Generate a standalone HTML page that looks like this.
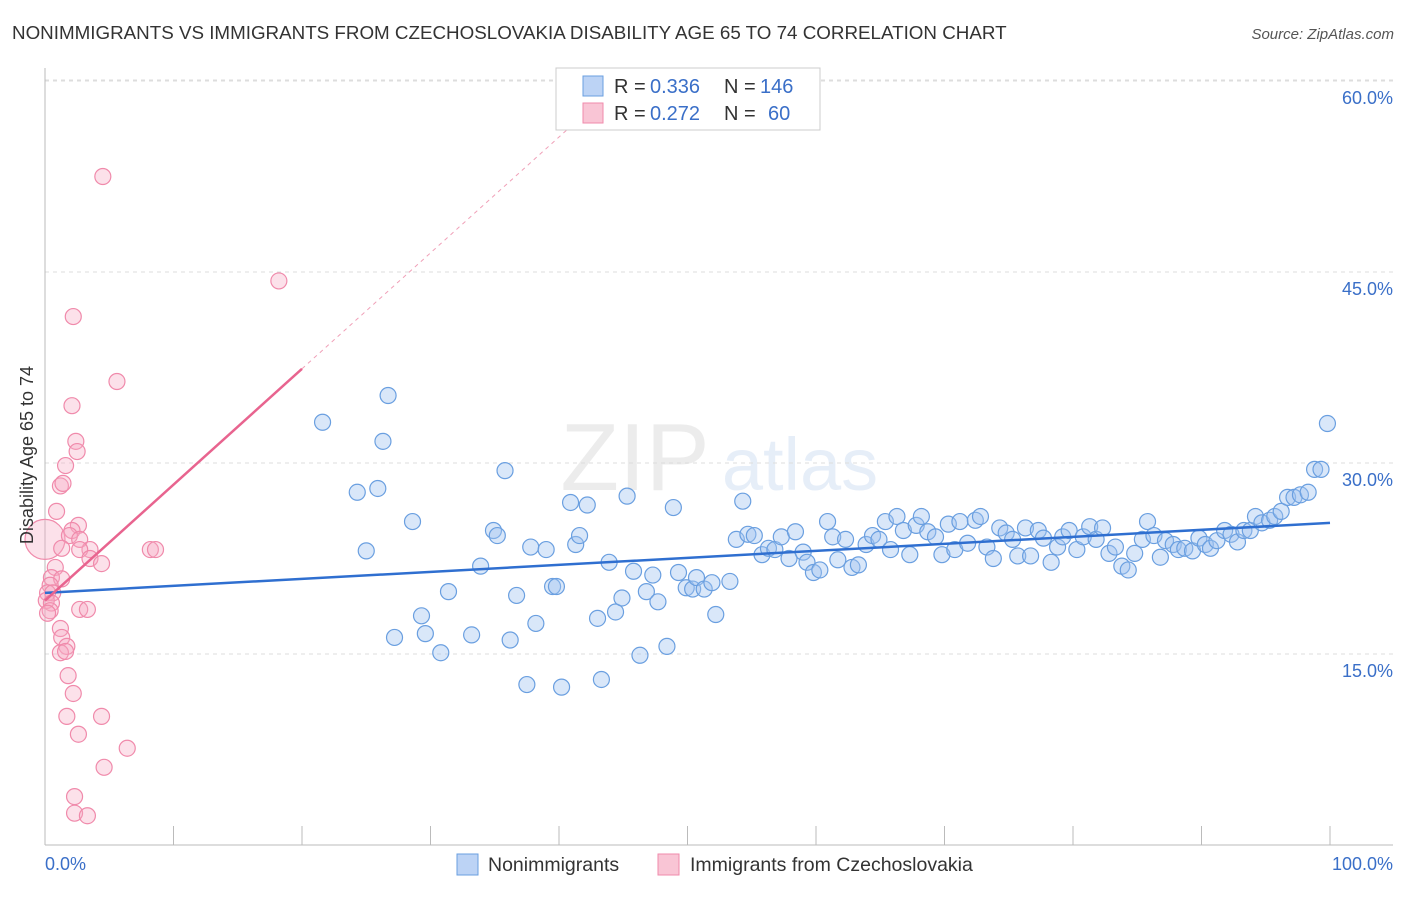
<!DOCTYPE html>
<html><head><meta charset="utf-8"><style>
body{margin:0;background:#fff;font-family:"Liberation Sans",sans-serif;}
svg text{font-family:"Liberation Sans",sans-serif;}
</style></head><body>
<svg id="chart" width="1406" height="892" xmlns="http://www.w3.org/2000/svg">
<text x="12" y="39" font-size="18.8" fill="#333">NONIMMIGRANTS VS IMMIGRANTS FROM CZECHOSLOVAKIA DISABILITY AGE 65 TO 74 CORRELATION CHART</text>
<text x="1394" y="39" font-size="15" fill="#555" text-anchor="end" font-style="italic">Source: ZipAtlas.com</text>
<g opacity="0.13">
<text x="635" y="490" font-size="96" font-family="Liberation Serif" fill="#777" text-anchor="middle">ZIP</text>
<text x="800" y="490" font-size="74" fill="#4a7fd0" text-anchor="middle">atlas</text>
</g>
<g id="grid"></g><g id="axes"></g><g id="marks"></g>
<text transform="translate(33,455) rotate(-90)" font-size="18" fill="#333" text-anchor="middle">Disability Age 65 to 74</text>
<g>
<rect x="556" y="68" width="264" height="62" fill="#fff" stroke="#ccc"/>
<rect x="583" y="76" width="20" height="20" fill="#bcd3f5" stroke="#6a9fe0"/>
<rect x="583" y="103" width="20" height="20" fill="#f9c5d5" stroke="#f08aab"/>
<text x="614" y="93" font-size="20" fill="#333">R =</text>
<text x="650" y="93" font-size="20" fill="#3a6fc8">0.336</text>
<text x="724" y="93" font-size="20" fill="#333">N =</text>
<text x="760" y="93" font-size="20" fill="#3a6fc8">146</text>
<text x="614" y="120" font-size="20" fill="#333">R =</text>
<text x="650" y="120" font-size="20" fill="#3a6fc8">0.272</text>
<text x="724" y="120" font-size="20" fill="#333">N =</text>
<text x="768" y="120" font-size="20" fill="#3a6fc8">60</text>
</g>
<g>
<rect x="457" y="854" width="21" height="21" fill="#bcd3f5" stroke="#6a9fe0"/>
<text x="488" y="871" font-size="19.5" fill="#333">Nonimmigrants</text>
<rect x="658" y="854" width="21" height="21" fill="#f9c5d5" stroke="#f08aab"/>
<text x="690" y="871" font-size="19.5" fill="#333">Immigrants from Czechoslovakia</text>
</g>
</svg>
<script>
const yTicks=[15,30,45,60];
const yTickLabels=["15.0%","30.0%","45.0%","60.0%"];
const xTicks=[10,20,30,40,50,60,70,80,90,100];
const blueX=[21.6,26.7,26.3,24.3,25.9,25.0,28.6,27.2,29.3,29.6,30.8,31.4,33.2,33.9,34.9,35.2,35.8,36.2,36.7,37.5,37.8,38.2,39.0,39.5,39.8,40.2,40.9,41.3,41.6,42.2,43.0,43.3,43.9,44.4,44.9,45.3,45.8,46.3,46.8,47.3,47.7,48.4,48.9,49.3,49.9,50.4,50.7,51.3,51.9,52.2,53.3,53.8,54.3,54.7,55.2,55.8,56.3,56.8,57.3,57.9,58.4,59.0,59.3,59.8,60.3,60.9,61.3,61.7,62.3,62.8,63.3,63.9,64.4,64.9,65.4,65.8,66.3,66.8,67.3,67.8,68.2,68.7,69.3,69.8,70.3,70.8,71.2,71.8,72.4,72.8,73.3,73.8,74.3,74.8,75.3,75.7,76.3,76.7,77.3,77.7,78.3,78.8,79.2,79.7,80.3,80.8,81.3,81.8,82.3,82.8,83.3,83.8,84.3,84.8,85.4,85.8,86.3,86.8,87.2,87.8,88.2,88.7,89.3,89.8,90.3,90.7,91.2,91.8,92.3,92.8,93.3,93.8,94.2,94.7,95.3,95.7,96.2,96.7,97.2,97.7,98.3,98.8,99.3,99.8];
const blueY=[33.2,35.3,31.7,27.7,28.0,23.1,25.4,16.3,18.0,16.6,15.1,19.9,16.5,21.9,24.7,24.3,29.4,16.1,19.6,12.6,23.4,17.4,23.2,20.3,20.3,12.4,26.9,23.6,24.3,26.7,17.8,13.0,22.2,18.3,19.4,27.4,21.5,14.9,19.9,21.2,19.1,15.6,26.5,21.4,20.2,20.1,21.0,20.1,20.6,18.1,20.7,24.0,27.0,24.4,24.3,22.8,23.3,23.2,24.2,22.5,24.6,23.0,22.2,21.4,21.6,25.4,24.2,22.4,24.0,21.8,22.0,23.6,24.3,24.0,25.4,23.2,25.8,24.7,22.8,25.1,25.8,24.6,24.2,22.8,25.2,23.2,25.4,23.7,25.5,25.8,23.4,22.5,24.9,24.5,24.0,22.7,24.9,22.7,24.7,24.1,22.2,23.4,24.2,24.7,23.2,24.2,25.0,24.0,24.9,22.9,23.4,21.9,21.6,22.9,24.0,25.4,24.3,22.6,23.9,23.6,23.2,23.3,23.1,24.1,23.6,23.3,23.9,24.7,24.4,23.8,24.7,24.7,25.8,25.3,25.5,25.8,26.2,27.3,27.3,27.5,27.7,29.5,29.5,33.1];
const pinkX=[4.5,18.2,2.2,5.6,2.1,2.4,2.5,1.6,1.2,1.4,0.9,2.6,2.1,1.9,2.7,1.3,3.5,2.7,8.2,8.6,3.5,4.4,0.8,0.5,1.3,0.4,0.2,0.6,0.1,0.5,0.4,2.7,3.3,0.2,1.2,1.3,1.7,1.2,1.6,1.8,2.2,1.7,4.4,2.6,6.4,4.6,2.3,2.3,3.3];
const pinkY=[52.5,44.3,41.5,36.4,34.5,31.7,30.9,29.8,28.2,28.4,26.2,25.1,24.7,24.3,24.0,23.3,23.2,23.2,23.2,23.2,22.5,22.1,21.8,21.0,20.9,20.4,19.8,19.8,19.2,19.0,18.4,18.5,18.5,18.2,17.0,16.3,15.6,15.1,15.2,13.3,11.9,10.1,10.1,8.7,7.6,6.1,3.8,2.5,2.3];
const blueTrend=[19.8,25.3];
const pinkTrend=[19.2,37.4];
const NS="http://www.w3.org/2000/svg";
const X0=45,X1=1330,Y0=845,PXY=191/15;
function sx(v){return X0+(X1-X0)*v/100;}
function sy(v){return Y0-v*PXY;}
function mk(tag,attrs,parent){const e=document.createElementNS(NS,tag);for(const k in attrs)e.setAttribute(k,attrs[k]);document.getElementById(parent).appendChild(e);return e;}
yTicks.forEach((t,i)=>{
 const g=mk('line',{x1:45,x2:1393,y1:sy(t),y2:sy(t),stroke:'#ddd','stroke-dasharray':'4,4'},'grid');
 
 
 const l=mk('text',{x:1393,y:sy(t)+23,'font-size':18,fill:'#3a6fc8','text-anchor':'end'},'axes');
 l.textContent=yTickLabels[i];
 
 
});
const topG=mk('line',{x1:45,x2:1393,y1:80,y2:80,stroke:'#ddd','stroke-dasharray':'4,4'},'grid');


const ya=mk('line',{x1:45,x2:45,y1:68,y2:845,stroke:'#bbb'},'axes');


const xa=mk('line',{x1:45,x2:1393,y1:845,y2:845,stroke:'#bbb'},'axes');


xTicks.forEach(t=>{
 const k=mk('line',{x1:sx(t),x2:sx(t),y1:826,y2:845,stroke:'#bbb'},'axes');
 
 
});
const xl0=mk('text',{x:45,y:870,'font-size':18,fill:'#3a6fc8'},'axes');xl0.textContent='0.0%';


const xl1=mk('text',{x:1393,y:870,'font-size':18,fill:'#3a6fc8','text-anchor':'end'},'axes');xl1.textContent='100.0%';


blueX.forEach((x,i)=>{
 const c=mk('circle',{cx:sx(x),cy:sy(blueY[i]),r:8,fill:'rgba(160,195,240,0.4)',stroke:'#6a9fe0','stroke-width':1.2},'marks');
 
 
});
const big=mk('circle',{cx:sx(0),cy:sy(24),r:20,fill:'rgba(245,170,195,0.35)',stroke:'#f08aab','stroke-width':1.2},'marks');


pinkX.forEach((x,i)=>{
 const c=mk('circle',{cx:sx(x),cy:sy(pinkY[i]),r:8,fill:'rgba(245,170,195,0.35)',stroke:'#f08aab','stroke-width':1.2},'marks');
 
 
});
const bt=mk('line',{x1:sx(0),y1:sy(blueTrend[0]),x2:sx(100),y2:sy(blueTrend[1]),stroke:'#2f6fd0','stroke-width':2.5},'marks');


const slope=(pinkTrend[1]-pinkTrend[0])/20;
const pt=mk('line',{x1:sx(0),y1:sy(pinkTrend[0]),x2:sx(20),y2:sy(pinkTrend[1]),stroke:'#e8648f','stroke-width':2.5},'marks');


const pd=mk('line',{x1:sx(20),y1:sy(pinkTrend[1]),x2:sx(43),y2:sy(pinkTrend[0]+slope*43),stroke:'#f0a0b8','stroke-width':1,'stroke-dasharray':'4,4'},'marks');


</script>
</body></html>
